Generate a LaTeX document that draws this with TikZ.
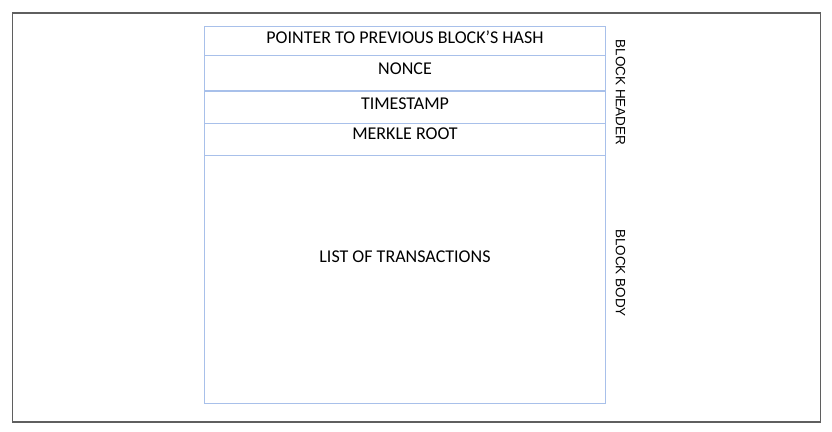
\documentclass[tikz,border=0pt]{standalone}
\usepackage{fontspec}
\setmainfont{Carlito}
\newfontfamily\sidefont{Liberation Sans}
\usetikzlibrary{positioning}
\definecolor{cellblue}{RGB}{168,192,234}
\definecolor{framegray}{RGB}{95,95,95}

\begin{document}
\begin{tikzpicture}[
    x=1pt, y=-1pt,
    node distance=0pt,
    % one row of the block, stacked without gaps
    cell/.style={rectangle, draw=cellblue, line width=1.2pt, minimum width=401pt, inner sep=0pt, outer sep=0pt},
    field/.style={font=\fontsize{18}{20}\selectfont, text=black, inner sep=0pt, anchor=center},
    side/.style={font=\sidefont\fontsize{13.5}{15}\selectfont, rotate=-90, inner sep=0pt}
]
    \useasboundingbox (0,0) rectangle (832,431);
    \draw[framegray, line width=1.4pt] (12.5,13) rectangle (820.5,422);

    % --- Header rows ---
    \node[cell, minimum height=29pt, label={[field, yshift=-11pt]north:POINTER TO PREVIOUS BLOCK’S HASH}] (hash) at (405,41) {};
    \node[cell, minimum height=35.5pt, below=of hash, label={[field, yshift=-13pt]north:NONCE}] (nonce) {};
    \node[cell, minimum height=32.5pt, below=of nonce, label={[field, yshift=-12.5pt]north:TIMESTAMP}] (stamp) {};
    \node[cell, minimum height=32pt, below=of stamp, label={[field, yshift=-10.5pt]north:MERKLE ROOT}] (merkle) {};

    % --- Body ---
    \node[cell, minimum height=248pt, below=of merkle, label={[field, yshift=-101.5pt]north:LIST OF TRANSACTIONS}] (body) {};

    % --- Side captions ---
    \node[side] (header) at (620.5,92.5) {BLOCK HEADER};
    \node[side] (bodycap) at (620.5,273) {BLOCK BODY};
\end{tikzpicture}
\end{document}
